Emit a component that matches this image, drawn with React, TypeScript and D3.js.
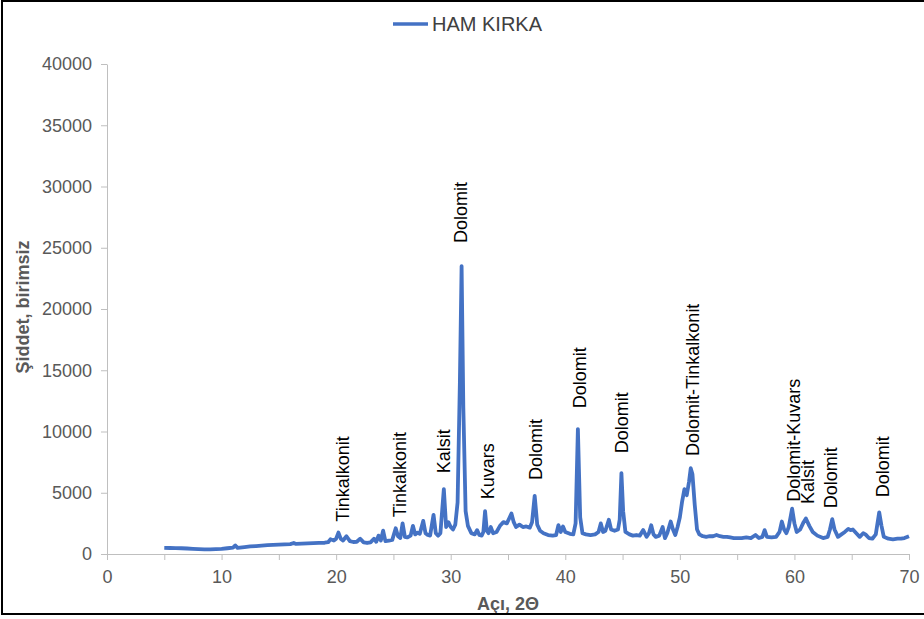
import { useEffect, useRef } from 'react';
import * as d3 from 'd3';

// XRD pattern (2-theta, intensity)
const angles = [
  5.0, 5.5, 6.0, 6.5, 7.0, 7.5, 8.0, 8.5, 9.0, 9.5, 10.0, 10.5, 11.0, 11.2, 11.4, 12.0, 12.5, 13.0, 13.5, 14.0,
  14.5, 15.0, 15.5, 16.0, 16.3, 16.5, 17.0, 17.5, 18.0, 18.5, 19.0, 19.3, 19.5, 19.8, 20.0, 20.2, 20.4, 20.6, 20.9, 21.2,
  21.5, 21.8, 22.1, 22.4, 22.7, 23.0, 23.3, 23.5, 23.7, 23.9, 24.1, 24.3, 24.6, 24.9, 25.2, 25.4, 25.6, 25.8, 26.0, 26.2,
  26.5, 26.7, 26.9, 27.1, 27.3, 27.6, 27.8, 28.0, 28.2, 28.5, 28.7, 28.9, 29.1, 29.4, 29.6, 29.8, 30.0, 30.2, 30.4, 30.6,
  30.8, 30.95, 31.1, 31.3, 31.5, 31.8, 32.1, 32.3, 32.5, 32.7, 32.85, 33.0, 33.15, 33.3, 33.5, 33.7, 34.0, 34.3, 34.6, 34.9,
  35.1, 35.3, 35.5, 35.7, 36.0, 36.3, 36.6, 36.9, 37.1, 37.33, 37.55, 37.8, 38.1, 38.5, 38.9, 39.2, 39.4, 39.6, 39.8, 40.0,
  40.4, 40.7, 40.9, 41.1, 41.3, 41.5, 41.8, 42.2, 42.6, 42.9, 43.1, 43.3, 43.5, 43.8, 44.0, 44.3, 44.6, 44.75, 44.9, 45.05,
  45.25, 45.6, 45.9, 46.2, 46.5, 46.8, 47.1, 47.3, 47.5, 47.7, 47.9, 48.2, 48.5, 48.7, 48.9, 49.2, 49.4, 49.6, 49.8, 50.0,
  50.2, 50.4, 50.6, 50.8, 50.95, 51.1, 51.3, 51.5, 51.7, 52.0, 52.3, 52.6, 52.9, 53.2, 53.5, 53.8, 54.1, 54.4, 54.7, 55.0,
  55.4, 55.8, 56.2, 56.6, 56.9, 57.2, 57.4, 57.6, 58.0, 58.4, 58.7, 58.9, 59.1, 59.3, 59.5, 59.8, 60.0, 60.2, 60.5, 60.8,
  61.0, 61.3, 61.6, 62.0, 62.5, 62.9, 63.1, 63.3, 63.5, 63.8, 64.1, 64.4, 64.7, 64.9, 65.1, 65.4, 65.7, 66.0, 66.2, 66.5,
  66.8, 67.1, 67.4, 67.6, 67.8, 68.2, 68.6, 69.0, 69.3, 69.6, 70.0,
];
const intensity = [
  500, 490, 480, 470, 450, 420, 400, 380, 380, 400, 420, 470, 520, 700, 500, 560, 620, 650, 680, 720,
  740, 760, 790, 810, 900, 820, 840, 860, 880, 900, 920, 960, 1200, 1100, 1250, 1750, 1250, 1100, 1450, 1050,
  980, 1000, 1250, 950, 900, 950, 1250, 1000, 1500, 1100, 1900, 1050, 1100, 1150, 2100, 1450, 1300, 2500, 1400, 1350,
  1500, 2300, 1600, 1750, 1650, 2700, 1700, 1550, 1500, 3200, 1700, 1500, 1700, 5300, 2200, 2600, 2200, 2000, 2400, 4200,
  14000, 23500, 12000, 3500, 2300, 1700, 1600, 1950, 1550, 1500, 1800, 3500, 1900, 1700, 2200, 1700, 1800, 2300, 2600, 2500,
  2900, 3300, 2600, 2200, 2400, 2200, 2250, 2150, 2600, 4750, 2400, 1900, 1700, 1550, 1500, 1550, 2350, 1800, 2250, 1800,
  1650, 1600, 2500, 10200, 3000, 1700, 1600, 1550, 1600, 1800, 2500, 1800, 1900, 2800, 2000, 1900, 2000, 2800, 6600, 3500,
  1800, 1600, 1500, 1550, 1500, 1950, 1400, 1700, 2350, 1600, 1400, 1500, 2200, 1300, 1700, 2650, 2000, 1550, 2200, 3000,
  4300, 5300, 4800, 5900, 7000, 6500, 4000, 2000, 1600, 1450, 1400, 1450, 1450, 1550, 1450, 1400, 1400, 1350, 1300, 1300,
  1300, 1350, 1300, 1550, 1300, 1400, 1950, 1400, 1350, 1400, 1800, 2650, 2000, 1700, 2200, 3700, 2500, 1800, 2000, 2600,
  2900, 2300, 1800, 1500, 1300, 1400, 2000, 2850, 2000, 1400, 1600, 1800, 2050, 1950, 2000, 1700, 1400, 1700, 1600, 1300,
  1250, 1600, 3400, 2300, 1400, 1250, 1200, 1250, 1250, 1300, 1450,
];

// peak annotations: name, 2-theta, intensity where the text starts
const peakNames = [
  'Tinkalkonit', 'Tinkalkonit', 'Kalsit', 'Dolomit', 'Kuvars', 'Dolomit', 'Dolomit', 'Dolomit',
  'Dolomit-Tinkalkonit', 'Dolomit-Kuvars', 'Kalsit', 'Dolomit', 'Dolomit',
];
const peakAngles = [20.57, 25.57, 29.41, 30.9, 33.19, 37.44, 41.29, 44.92, 51.12, 59.9, 61.12, 63.19, 67.7];
const peakLevels = [2640, 3000, 6590, 25390, 4470, 6040, 11890, 8220, 8000, 4270, 4080, 3730, 4630];

const xTicks = [0, 10, 20, 30, 40, 50, 60, 70];
const yTicks = [0, 5000, 10000, 15000, 20000, 25000, 30000, 35000, 40000];

const seriesName = 'HAM KIRKA';

export default function App() {
  const svgRef = useRef<SVGSVGElement>(null);

  useEffect(() => {
    const width = 924;
    const height = 619;
    const left = 107, right = 909, top = 64, bottom = 554;
    const font = 'Liberation Sans, Arial, sans-serif';
    const blue = '#4472C4';

    const svg = d3.select(svgRef.current);
    svg.selectAll('*').remove();
    svg.attr('width', width).attr('height', height);

    svg.append('rect').attr('width', width).attr('height', height).attr('fill', '#fff');

    const x = d3.scaleLinear().domain([0, 70]).range([left, right]);
    const y = d3.scaleLinear().domain([0, 40000]).range([bottom, top]);

    // y axis
    const yAxis = svg.append('g')
      .attr('transform', `translate(${left},0)`)
      .call(d3.axisLeft(y).tickValues(yTicks).tickSize(6).tickPadding(9).tickSizeOuter(0).tickFormat(d3.format('d')));

    // x axis (minor ticks every 5)
    const xAxis = svg.append('g')
      .attr('transform', `translate(0,${bottom})`)
      .call(d3.axisBottom(x).ticks(14).tickSize(6).tickPadding(10).tickSizeOuter(0)
        .tickFormat(d => (xTicks.includes(+d) ? String(d) : '')));

    [yAxis, xAxis].forEach(g => {
      g.selectAll('path, line').attr('stroke', '#bfbfbf');
      g.selectAll('text')
        .attr('fill', '#595959')
        .style('font-family', font)
        .style('font-size', '18px');
    });

    // data line
    const pts = angles.map((a, i) => [a, intensity[i]] as [number, number]);
    const line = d3.line<[number, number]>().x(d => x(d[0])).y(d => y(d[1]));
    svg.append('path')
      .datum(pts)
      .attr('d', line)
      .attr('fill', 'none')
      .attr('stroke', blue)
      .attr('stroke-width', 3.8)
      .attr('stroke-linejoin', 'round');

    // peak names, rotated
    svg.selectAll('.peak')
      .data(peakNames)
      .enter()
      .append('text')
      .attr('class', 'peak')
      .attr('transform', (d, i) => `translate(${x(peakAngles[i])},${y(peakLevels[i])}) rotate(-90)`)
      .attr('dy', '0.35em')
      .attr('fill', '#000')
      .style('font-family', font)
      .style('font-size', '18px')
      .text(d => d);

    // axis titles
    svg.append('text')
      .attr('transform', `translate(23,307) rotate(-90)`)
      .attr('text-anchor', 'middle')
      .attr('dy', '0.35em')
      .attr('fill', '#595959')
      .style('font-family', font)
      .style('font-size', '18px')
      .style('font-weight', 'bold')
      .text('Şiddet, birimsiz');

    svg.append('text')
      .attr('x', (left + right) / 2)
      .attr('y', 604)
      .attr('dy', '0.35em')
      .attr('text-anchor', 'middle')
      .attr('fill', '#595959')
      .style('font-family', font)
      .style('font-size', '18px')
      .style('font-weight', 'bold')
      .text('Açı, 2Θ');

    // legend
    svg.append('line')
      .attr('x1', 393).attr('x2', 428).attr('y1', 24).attr('y2', 24)
      .attr('stroke', blue).attr('stroke-width', 3.5);
    svg.append('text')
      .attr('x', 432).attr('y', 24).attr('dy', '0.35em')
      .attr('fill', '#404040')
      .style('font-family', font)
      .style('font-size', '20px')
      .text(seriesName);

    // outer frame
    svg.append('rect')
      .attr('x', 2).attr('y', 1).attr('width', 960).attr('height', 613)
      .attr('fill', 'none').attr('stroke', '#000').attr('stroke-width', 2);
  }, []);

  return (
    <svg ref={svgRef} style={{ position: 'absolute', left: 0, top: 0, display: 'block' }}></svg>
  );
}
